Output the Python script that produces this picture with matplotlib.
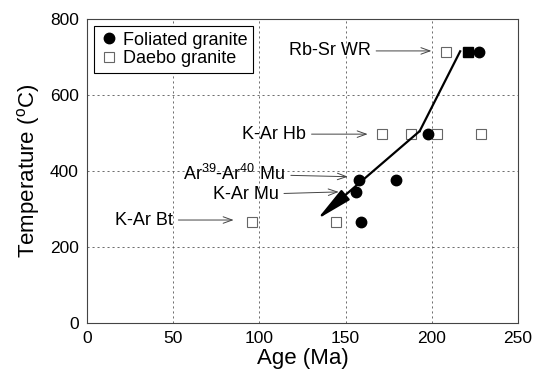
import matplotlib
matplotlib.use("Agg")
import matplotlib.pyplot as plt

plt.rcParams['font.family'] = ['Liberation Sans', 'DejaVu Sans']
plt.rcParams['mathtext.fontset'] = 'custom'
plt.rcParams['mathtext.rm'] = 'Liberation Sans'
plt.rcParams['mathtext.it'] = 'Liberation Sans'

# data
foliated_age = [227.5, 198, 158, 179, 156, 159]
foliated_temp = [713, 497, 377, 376, 345, 267]
daebo_age = [208, 171, 188, 203, 228.5, 144.5, 95.5]
daebo_temp = [713, 497, 497, 497, 497, 267, 267]
# overlapping points at Rb-Sr (drawn as solid square)
overlap_age = [221]
overlap_temp = [713]

# cooling path
path_age = [216.5, 193, 133.5]
path_temp = [715, 505, 273]

labels = ['Rb-Sr WR', 'K-Ar Hb', 'Ar$^{39}$-Ar$^{40}$ Mu', 'K-Ar Mu', 'K-Ar Bt']
label_xy = [(164.5, 716), (127, 497), (115, 392), (111, 338), (49.7, 271)]
arrow_tip = [(199.8, 716), (162.8, 497), (151.3, 385), (146, 345), (85, 271)]

fig = plt.figure(figsize=(5.35, 3.8), dpi=100)
ax = fig.add_axes([0.163, 0.15, 0.805, 0.80])

ax.grid(True, linestyle=(0, (2.5, 3.5)), color='#555555', linewidth=0.6)
ax.set_axisbelow(True)

ax.plot(daebo_age, daebo_temp, 's', ms=6.5, mfc='white', mec='#666666', mew=0.8,
        label='Daebo granite', zorder=3)
ax.plot(overlap_age, overlap_temp, 's', ms=7.5, mfc='black', mec='black', zorder=4)
ax.plot(foliated_age, foliated_temp, 'o', ms=7.5, color='black',
        label='Foliated granite', zorder=4)

# cooling path with arrow
ax.plot(path_age[:2], path_temp[:2], color='black', lw=1.6, zorder=5)
ax.annotate('', xy=(path_age[2], path_temp[2]), xytext=(path_age[1], path_temp[1]),
            arrowprops=dict(arrowstyle='-|>,head_length=1.1,head_width=0.2',
                            color='black', lw=1.6, shrinkA=0, shrinkB=0,
                            mutation_scale=20), zorder=5)

for lab, xy, tip in zip(labels, label_xy, arrow_tip):
    ax.annotate(lab, xy=tip, xytext=xy, ha='right', va='center', fontsize=13,
                arrowprops=dict(arrowstyle='->,head_length=0.5,head_width=0.18',
                                color='#444444', lw=0.7, shrinkA=2, shrinkB=0))

ax.set_xlim(0, 250)
ax.set_ylim(0, 800)
ax.set_xticks([0, 50, 100, 150, 200, 250])
ax.set_yticks([0, 200, 400, 600, 800])
ax.tick_params(direction='in', labelsize=12.5, length=0, pad=6)
for s in ax.spines.values():
    s.set_color('#444444')
    s.set_linewidth(0.8)

ax.set_xlabel('Age (Ma)', fontsize=16, labelpad=1)
ax.set_ylabel('Temperature ($^{\\mathrm{o}}$C)', fontsize=16, labelpad=6)

handles, lbls = ax.get_legend_handles_labels()
leg = ax.legend(handles[::-1], lbls[::-1], loc='upper left', fontsize=13,
                fancybox=False, edgecolor='black', framealpha=1,
                handletextpad=0.3, handlelength=1.0, borderpad=0.3,
                labelspacing=0.1, borderaxespad=0.4)
leg.get_frame().set_linewidth(0.8)

fig.savefig('out.png', dpi=100)
